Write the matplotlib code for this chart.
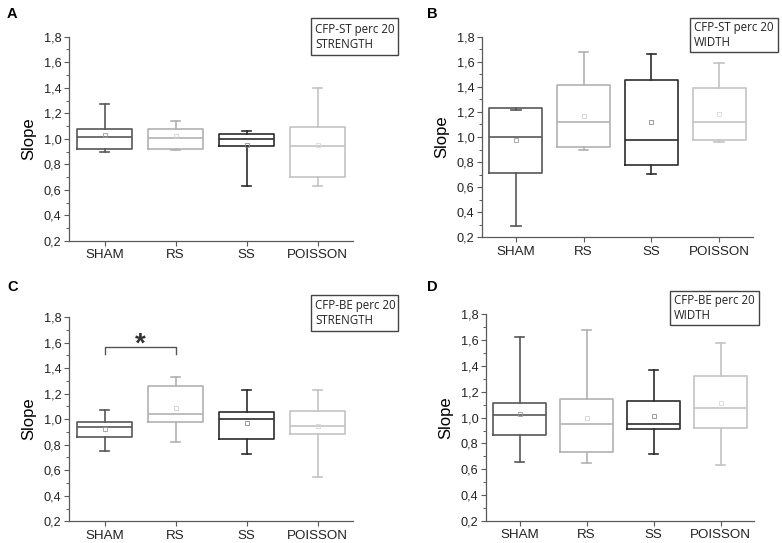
import matplotlib
matplotlib.use("Agg")
import matplotlib.pyplot as plt
from matplotlib.patches import Rectangle
from matplotlib.ticker import MultipleLocator, FuncFormatter

groups = ["SHAM", "RS", "SS", "POISSON"]
colors = ["#585858", "#b2b2b2", "#2c2c2c", "#c4c4c4"]
mean_colors = ["#9a9a9a", "#d0d0d0", "#8a8a8a", "#d8d8d8"]

# per panel: whislo, q1, median, q3, whishi, mean (for SHAM, RS, SS, POISSON)
A_low = [0.90, 0.915, 0.628, 0.633]
A_q1 = [0.923, 0.923, 0.944, 0.699]
A_med = [1.014, 1.007, 0.999, 0.944]
A_q3 = [1.074, 1.074, 1.040, 1.093]
A_high = [1.270, 1.137, 1.061, 1.395]
A_mean = [1.03, 1.02, 0.95, 0.95]

B_low = [0.288, 0.894, 0.702, 0.963]
B_q1 = [0.713, 0.920, 0.777, 0.976]
B_med = [1.003, 1.117, 0.979, 1.117]
B_q3 = [1.234, 1.415, 1.457, 1.393]
B_high = [1.215, 1.680, 1.664, 1.593]
B_mean = [0.973, 1.170, 1.117, 1.186]

C_low = [0.753, 0.819, 0.727, 0.549]
C_q1 = [0.863, 0.980, 0.847, 0.886]
C_med = [0.936, 1.037, 1.001, 0.944]
C_q3 = [0.980, 1.260, 1.053, 1.064]
C_high = [1.069, 1.333, 1.226, 1.229]
C_mean = [0.920, 1.085, 0.970, 0.944]

D_low = [0.654, 0.646, 0.716, 0.631]
D_q1 = [0.868, 0.737, 0.910, 0.922]
D_med = [1.018, 0.953, 0.953, 1.077]
D_q3 = [1.113, 1.147, 1.126, 1.325]
D_high = [1.624, 1.681, 1.372, 1.581]
D_mean = [1.030, 1.000, 1.010, 1.111]

yticks = [0.2, 0.4, 0.6, 0.8, 1.0, 1.2, 1.4, 1.6, 1.8]

panels = [
    ("A", "CFP-ST perc 20\nSTRENGTH", A_low, A_q1, A_med, A_q3, A_high, A_mean),
    ("B", "CFP-ST perc 20\nWIDTH", B_low, B_q1, B_med, B_q3, B_high, B_mean),
    ("C", "CFP-BE perc 20\nSTRENGTH", C_low, C_q1, C_med, C_q3, C_high, C_mean),
    ("D", "CFP-BE perc 20\nWIDTH", D_low, D_q1, D_med, D_q3, D_high, D_mean),
]

W, H = 782, 543
fig = plt.figure(figsize=(W / 100, H / 100), dpi=100)

def fr(l, t, r, b):
    return [l / W, 1 - b / H, (r - l) / W, (b - t) / H]

ax_rects = [fr(69, 36.7, 353, 241), fr(482, 36.7, 753, 237.3),
            fr(69, 317, 353, 521.3), fr(486, 314.3, 754, 521)]
letter_pos = [(7, 18), (427, 18), (7, 291), (427, 291)]
box_rects = [(311, 18, 398, 55), (690, 18, 778, 52), (311, 295, 398, 331), (670, 291, 759, 325)]

axis_col = "#5a5a5a"
FAM = ["Liberation Sans", "DejaVu Sans"]

for i, (letter, label, lo, q1, med, q3, hi, mn) in enumerate(panels):
    ax = fig.add_axes(ax_rects[i])
    for j in range(4):
        st = [dict(whislo=lo[j], q1=q1[j], med=med[j], q3=q3[j], whishi=hi[j], mean=mn[j], fliers=[])]
        c = colors[j]
        ax.bxp(st, positions=[j + 1], widths=0.78, capwidths=0.14, showmeans=True,
               showfliers=False, manage_ticks=False,
               boxprops=dict(color=c, linewidth=1.2),
               medianprops=dict(color=c, linewidth=1.2),
               whiskerprops=dict(color=c, linewidth=1.2),
               capprops=dict(color=c, linewidth=1.2),
               meanprops=dict(marker="s", markersize=2.4, markerfacecolor="none",
                              markeredgecolor=mean_colors[j], markeredgewidth=0.6))
    ax.set_xlim(0.5, 4.5)
    ax.set_ylim(0.2, 1.8)
    ax.set_xticks(range(1, 5))
    ax.set_xticklabels(groups, family=FAM, fontsize=9.6, color="#222222")
    ax.set_yticks(yticks)
    ax.yaxis.set_major_formatter(FuncFormatter(lambda v, p: f"{v:.1f}".replace(".", ",")))
    ax.yaxis.set_minor_locator(MultipleLocator(0.1))
    for t in ax.get_yticklabels():
        t.set_fontfamily(FAM)
        t.set_fontsize(9.2)
        t.set_color("#222222")
    ax.tick_params(axis="both", which="major", direction="out", length=3.5, width=0.8,
                   color=axis_col, pad=2)
    ax.tick_params(axis="y", which="minor", direction="out", length=2, width=0.7, color=axis_col)
    ax.tick_params(axis="x", pad=2.5)
    for s in ["top", "right"]:
        ax.spines[s].set_visible(False)
    for s in ["left", "bottom"]:
        ax.spines[s].set_color(axis_col)
        ax.spines[s].set_linewidth(0.9)
    ax.set_ylabel("Slope", family=FAM, fontsize=12, labelpad=5)
    ax.patch.set_alpha(0)

    if letter == "C":
        ax.plot([1, 1, 2, 2], [1.513, 1.565, 1.565, 1.513], color="#555555", lw=1.0)
        ax.text(1.5, 1.585, "*", ha="center", va="center", fontsize=20, fontweight="bold",
                color="#333333", family=FAM)

    lx, ly = letter_pos[i]
    fig.text(lx / W, 1 - ly / H, letter, fontsize=10.5, fontweight="bold",
             family=FAM, ha="left", va="baseline")

    l, t, r, b = box_rects[i]
    fig.patches.append(Rectangle((l / W, 1 - b / H), (r - l) / W, (b - t) / H,
                                 transform=fig.transFigure, fill=True, facecolor="white",
                                 edgecolor="#444444", linewidth=1.0))
    fig.text((l + 4) / W, 1 - (t + (b - t) / 2) / H, label, fontsize=8.3,
             family=["Open Sans", "DejaVu Sans"], ha="left", va="center",
             linespacing=1.2, color="#222222")

fig.savefig("out.png", dpi=100)
